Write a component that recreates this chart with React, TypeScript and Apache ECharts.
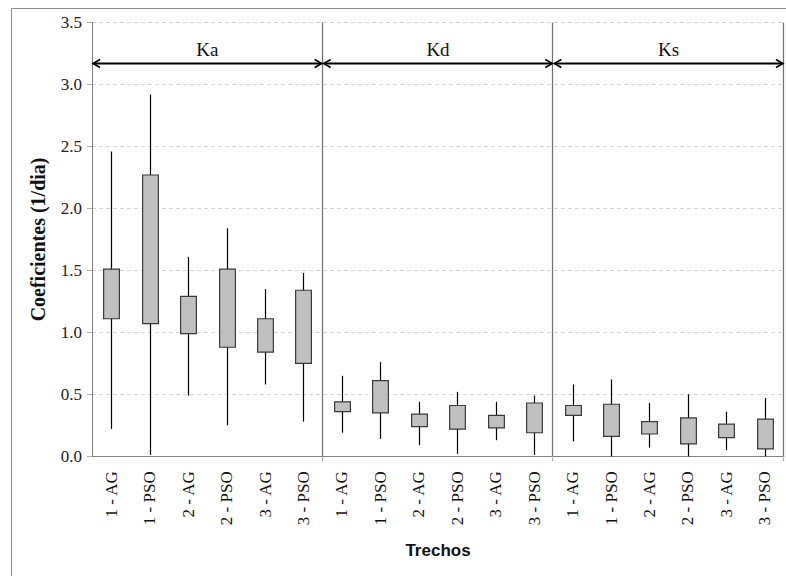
import React, { useEffect, useRef } from "react";
import * as echarts from "echarts";

const categories = [
  "1 - AG", "1 - PSO", "2 - AG", "2 - PSO", "3 - AG", "3 - PSO",
  "1 - AG", "1 - PSO", "2 - AG", "2 - PSO", "3 - AG", "3 - PSO",
  "1 - AG", "1 - PSO", "2 - AG", "2 - PSO", "3 - AG", "3 - PSO",
];
// [min, Q1, Q3, max]
const kaValues = [
  [0.22, 1.11, 1.51, 2.46],
  [0.01, 1.07, 2.27, 2.92],
  [0.49, 0.99, 1.29, 1.61],
  [0.25, 0.88, 1.51, 1.84],
  [0.58, 0.84, 1.11, 1.35],
  [0.28, 0.75, 1.34, 1.48],
];
const kdValues = [
  [0.19, 0.36, 0.44, 0.65],
  [0.14, 0.35, 0.61, 0.76],
  [0.09, 0.24, 0.34, 0.44],
  [0.02, 0.22, 0.41, 0.52],
  [0.13, 0.23, 0.33, 0.44],
  [0.01, 0.19, 0.43, 0.49],
];
const ksValues = [
  [0.12, 0.33, 0.41, 0.58],
  [0.0, 0.16, 0.42, 0.62],
  [0.07, 0.18, 0.28, 0.43],
  [0.0, 0.1, 0.31, 0.5],
  [0.05, 0.15, 0.26, 0.36],
  [0.0, 0.06, 0.3, 0.47],
];
const groupNames = ["Ka", "Kd", "Ks"];
const arrowLevel = 3.17;
const yMin = 0;
const yMax = 3.5;
const yTicks = [0, 0.5, 1.0, 1.5, 2.0, 2.5, 3.0, 3.5];

export default function App() {
  const ref = useRef<HTMLDivElement>(null);
  useEffect(() => {
    if (!ref.current) return;
    const chart = echarts.init(ref.current, null, { renderer: "svg" });
    const all = [...kaValues, ...kdValues, ...ksValues];
    const boxData = all.map((v, i) => [i, v[0], v[1], v[2], v[3]]);
    const arrowData = groupNames.map((g, i) => [i * 6, i * 6 + 5, arrowLevel, g]);
    const serif = "'Liberation Serif', 'DejaVu Serif', serif";

    chart.setOption({
      animation: false,
      grid: { left: 92, right: 2, top: 22.6, bottom: 119.7, containLabel: false },
      graphic: [
        {
          type: "rect",
          shape: { x: 11.5, y: 8.5, width: 800, height: 600 },
          style: { fill: "none", stroke: "#8c8c8c", lineWidth: 1 },
          silent: true,
          z: -10,
        },
      ],
      xAxis: {
        type: "category",
        data: categories,
        boundaryGap: true,
        name: "Trechos",
        nameLocation: "middle",
        nameGap: 86,
        nameTextStyle: {
          fontFamily: "'Liberation Sans', Arial, sans-serif",
          fontWeight: "bold",
          fontSize: 17,
          color: "#111",
        },
        axisLine: { show: true, lineStyle: { color: "#808080", width: 1 } },
        axisTick: { show: false },
        splitLine: { show: false },
        axisLabel: {
          interval: 0,
          rotate: 90,
          margin: 15,
          fontFamily: serif,
          fontSize: 17,
          color: "#111",
        },
      },
      yAxis: {
        type: "value",
        min: yMin,
        max: yMax,
        interval: 0.5,
        name: "Coeficientes (1/dia)",
        nameLocation: "middle",
        nameGap: 44,
        nameRotate: 90,
        nameTextStyle: {
          fontFamily: serif,
          fontWeight: "bold",
          fontSize: 20,
          color: "#111",
        },
        axisLine: { show: true, lineStyle: { color: "#808080", width: 1 } },
        axisTick: { show: true, length: 5, lineStyle: { color: "#b0b0b0" } },
        splitLine: { show: true, lineStyle: { color: "#d4d4d4", type: [4, 3], width: 1 } },
        axisLabel: {
          margin: 10,
          fontFamily: serif,
          fontSize: 17,
          color: "#222",
          formatter: (v: number) => {
            const t = yTicks.find((x) => Math.abs(x - v) < 1e-9);
            return (t !== undefined ? t : v).toFixed(1);
          },
        },
      },
      series: [
        {
          type: "custom",
          data: boxData,
          encode: { x: 0, y: [1, 2, 3, 4] },
          renderItem: (params: any, api: any) => {
            const idx = api.value(0);
            const pMin = api.coord([idx, api.value(1)]);
            const pQ1 = api.coord([idx, api.value(2)]);
            const pQ3 = api.coord([idx, api.value(3)]);
            const pMax = api.coord([idx, api.value(4)]);
            const bw = api.size([1, 0])[0] * 0.41;
            const x = Math.round(pMin[0]) + 0.5;
            return {
              type: "group",
              children: [
                {
                  type: "line",
                  shape: { x1: x, y1: pMin[1], x2: x, y2: pMax[1] },
                  style: { stroke: "#000", lineWidth: 1.2 },
                },
                {
                  type: "rect",
                  shape: { x: x - bw / 2, y: pQ3[1], width: bw, height: pQ1[1] - pQ3[1] },
                  style: { fill: "#c0c0c0", stroke: "#3a3a3a", lineWidth: 1.2 },
                },
              ],
            };
          },
          z: 5,
        },
        {
          type: "custom",
          data: arrowData,
          encode: { x: [0, 1], y: 2 },
          renderItem: (params: any, api: any) => {
            const a = api.coord([api.value(0), api.value(2)]);
            const b = api.coord([api.value(1), api.value(2)]);
            const bottom = api.coord([api.value(1), yMin])[1];
            const top = api.coord([api.value(1), yMax])[1];
            const half = api.size([1, 0])[0] / 2;
            const sepX = Math.round(b[0] + half) - 0.5;
            const x1 = a[0] - half + 1;
            const x2 = b[0] + half - 1;
            const y = a[1];
            const h = 7;
            const v = 4;
            return {
              type: "group",
              children: [
                {
                  type: "line",
                  shape: { x1: sepX, y1: top, x2: sepX, y2: bottom },
                  style: { stroke: "#707070", lineWidth: 1.2 },
                },
                {
                  type: "line",
                  shape: { x1: sepX, y1: bottom, x2: sepX, y2: bottom + 5 },
                  style: { stroke: "#b0b0b0", lineWidth: 1.2 },
                },
                {
                  type: "line",
                  shape: { x1, y1: y, x2, y2: y },
                  style: { stroke: "#000", lineWidth: 2 },
                },
                {
                  type: "polyline",
                  shape: { points: [[x1 + h, y - v], [x1, y], [x1 + h, y + v]] },
                  style: { stroke: "#000", lineWidth: 1.6, fill: "none" },
                },
                {
                  type: "polyline",
                  shape: { points: [[x2 - h, y - v], [x2, y], [x2 - h, y + v]] },
                  style: { stroke: "#000", lineWidth: 1.6, fill: "none" },
                },
                {
                  type: "text",
                  style: {
                    x: (x1 + x2) / 2,
                    y: y - 4,
                    text: api.value(3),
                    fontFamily: serif,
                    fontSize: 19,
                    fill: "#111",
                    align: "center",
                    verticalAlign: "bottom",
                  },
                },
              ],
            };
          },
          z: 6,
        },
      ],
    });
    return () => chart.dispose();
  }, []);
  return <div ref={ref} style={{ width: 786, height: 576, position: "absolute", left: 0, top: 0 }} />;
}
